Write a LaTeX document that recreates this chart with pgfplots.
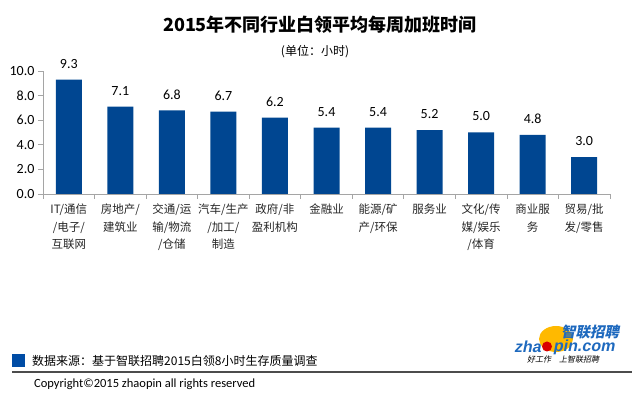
\documentclass[border=0pt]{standalone}
\usepackage{fontspec}
\usepackage{pgfplots}
\pgfplotsset{compat=1.18}
\setmainfont{Noto Sans CJK SC}
\newfontfamily\lat{Carlito}
\newfontfamily\logolat[FakeSlant=0.2]{Liberation Sans}
\newfontfamily\logocjk[FakeSlant=0.2]{Noto Sans CJK SC}
\definecolor{barblue}{RGB}{0,70,145}
\definecolor{srcblue}{RGB}{0,76,165}
\definecolor{logoblue}{RGB}{30,105,190}
\definecolor{axisgray}{RGB}{165,165,165}
\begin{document}
\begin{tikzpicture}[x=1pt,y=1pt]
\useasboundingbox (0,0) rectangle (640,401);
\node[font=\fontsize{18}{20}\selectfont\bfseries] at (320,376) {2015年不同行业白领平均每周加班时间};
\node[font=\fontsize{12}{14}\selectfont] at (315,349) {(单位：小时)};
\begin{axis}[
  at={(43pt,207pt)}, anchor=south west, scale only axis,
  width=567pt, height=123pt,
  xmin=-0.5, xmax=10.5, ymin=0, ymax=10,
  ybar, bar width=26pt,
  axis x line*=bottom, axis y line*=left,
  axis line style={draw=axisgray, line width=0.7pt},
  tick align=outside,
  major tick length=5pt, minor tick length=5pt,
  tick style={draw=axisgray, line width=0.7pt},
  every major x tick/.append style={draw=none},
  xtick={0,...,10},
  minor xtick={-0.5,0.5,...,10.5},
  xticklabels={{IT/通信\\/电子/\\互联网},{房地产/\\建筑业},{交通/运\\输/物流\\/仓储},{汽车/生产\\/加工/\\制造},{政府/非\\盈利机构},{金融业},{能源/矿\\产/环保},{服务业},{文化/传\\媒/娱乐\\/体育},{商业服\\务},{贸易/批\\发/零售}},
  xticklabel style={font=\fontsize{11.5}{17.5}\selectfont, align=center, inner sep=0pt, anchor=north, yshift=-5pt, text=black!85},
  ytick={0,2,...,10},
  yticklabel style={font=\lat\fontsize{14}{16}\selectfont, /pgf/number format/.cd, fixed, fixed zerofill, precision=1, /pgf/number format/assume math mode=true},
  clip=false,
  nodes near coords={\pgfmathprintnumber[fixed,fixed zerofill,precision=1,assume math mode=true]{\pgfplotspointmeta}},
  every node near coord/.append style={font=\lat\fontsize{14}{16}\selectfont, anchor=center, yshift=16pt, text=black},
]
\addplot[fill=barblue, draw=none] coordinates {
 (0,9.3) (1,7.1) (2,6.8) (3,6.7) (4,6.2) (5,5.4) (6,5.4) (7,5.2) (8,5.0) (9,4.8) (10,3.0)};
\end{axis}
% footer
\fill[srcblue] (12,34) rectangle (25,47);
\node[anchor=west, font=\fontsize{12}{14}\selectfont, inner sep=0pt] at (32,40) {数据来源：基于智联招聘2015白领8小时生存质量调查};
\draw[line width=1.3pt, black!70] (12,29) -- (632,29);
\node[anchor=west, font=\lat\fontsize{12.5}{14}\selectfont, inner sep=0pt] at (34,17) {Copyright©2015 zhaopin all rights reserved};
% logo
\fill[orange!55!yellow] (556,62) ellipse (17 and 13);
\node[anchor=center, font=\logocjk\bfseries\fontsize{14.5}{16}\selectfont, text=logoblue, inner sep=0pt] at (590,69) {智联招聘};
\node[anchor=west, font=\logolat\bfseries\fontsize{16}{18}\selectfont, text=logoblue, inner sep=0pt] at (514,54) {zha};
\fill[red!85!black] (547,54.5) circle (5);
\node[anchor=west, font=\logolat\bfseries\fontsize{16}{18}\selectfont, text=logoblue, inner sep=0pt] at (553,54) {pin.com};
\node[anchor=center, font=\logocjk\fontsize{8}{9}\selectfont, inner sep=0pt] at (563,42) {好工作\quad 上智联招聘};
\end{tikzpicture}
\end{document}
